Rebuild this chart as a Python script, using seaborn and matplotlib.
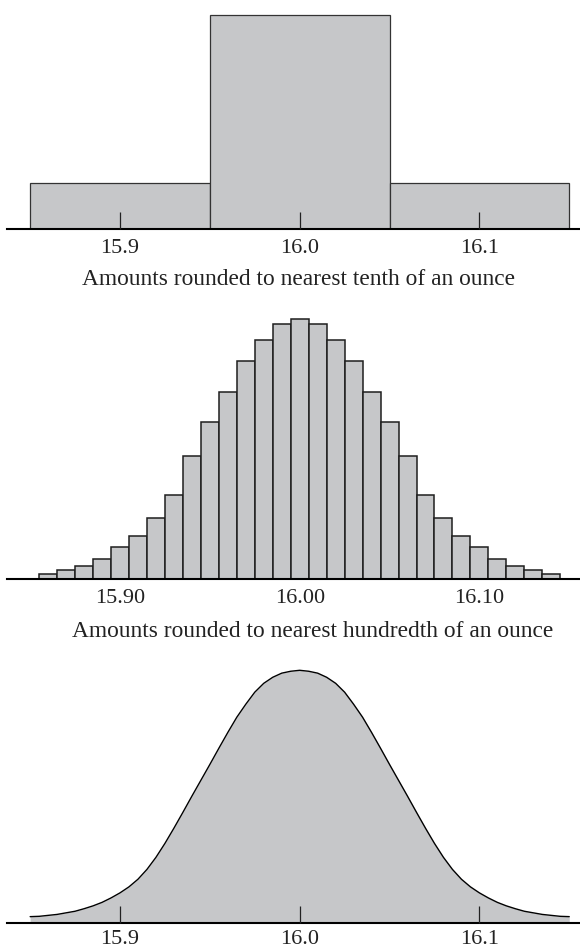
import numpy as np
import matplotlib
matplotlib.use("Agg")
import matplotlib.pyplot as plt
import seaborn as sns

# bars rounded to tenths (percent of items)
tenth_centers = [15.9, 16.0, 16.1]
tenth_pct = [15, 70, 15]

# bars rounded to hundredths (percent of items)
hund_centers = np.round(np.arange(15.86, 16.145, 0.01), 2)
hund_pct = [0.17, 0.27, 0.40, 0.62, 1.00, 1.37, 1.95, 2.68, 3.89, 4.97, 5.94, 6.93, 7.57, 8.10,
            8.24,
            8.10, 7.57, 6.93, 5.94, 4.97, 3.89, 2.68, 1.95, 1.37, 1.00, 0.62, 0.40, 0.27, 0.17]

# smooth curve, density read every 0.005 oz
curve_x = np.linspace(15.85, 16.15, 61)
curve_y = [0.21, 0.22, 0.25, 0.28, 0.33, 0.38, 0.46, 0.55, 0.66, 0.80, 0.96, 1.15, 1.39, 1.70,
           2.08, 2.52, 3.00, 3.50, 4.01, 4.51, 5.01, 5.52, 6.02, 6.50, 6.91, 7.29, 7.57, 7.76,
           7.89, 7.95, 7.98,
           7.95, 7.89, 7.76, 7.57, 7.29, 6.91, 6.50, 6.02, 5.52, 5.01, 4.51, 4.01, 3.50, 3.00,
           2.52, 2.08, 1.70, 1.39, 1.15, 0.96, 0.80, 0.66, 0.55, 0.46, 0.38, 0.33, 0.28, 0.25,
           0.22, 0.21]

ticks_a = [15.9, 16.0, 16.1]
labels_a = ["15.9", "16.0", "16.1"]
labels_b = ["15.90", "16.00", "16.10"]
caption_a = "Amounts rounded to nearest tenth of an ounce"
caption_b = "Amounts rounded to nearest hundredth of an ounce"

sns.set_style("white")
plt.rcParams['font.family'] = ['Liberation Serif', 'DejaVu Serif']

W, H = 580, 950
fig = plt.figure(figsize=(W / 100, H / 100), dpi=100)
GREY = "#c6c7c9"
X0, X1 = 15.83712, 16.15598


def make_ax(top, bottom):
    return fig.add_axes([7 / W, 1 - bottom / H, (W - 7) / W, (bottom - top) / H])


def style(ax, labels, ticklen, pad=7):
    ax.set_xlim(X0, X1)
    ax.set_axisbelow(False)
    for s in ["top", "left", "right"]:
        ax.spines[s].set_visible(False)
    ax.spines["bottom"].set_linewidth(1.5)
    ax.spines["bottom"].set_color("black")
    ax.set_yticks([])
    ax.set_ylabel("")
    ax.set_xlabel("")
    ax.set_xticks(ticks_a)
    ax.set_xticklabels(labels)
    ax.tick_params(axis="x", bottom=True, direction="in", length=ticklen, width=0.9,
                   color="#222222", pad=pad, labelsize=16, labelcolor="#222222")
    ax.set_facecolor("none")


# panel 1
ax1 = make_ax(5, 229.3)
sns.histplot(x=tenth_centers, weights=tenth_pct, bins=[15.85, 15.95, 16.05, 16.15],
             color=GREY, alpha=1, edgecolor="#333333", linewidth=0.9, ax=ax1)
ax1.set_ylim(0, 70 * 224.3 / 214.3)
style(ax1, labels_a, 12)

# panel 2
ax2 = make_ax(300, 579)
edges = [round(15.855 + 0.01 * i, 3) for i in range(30)]
sns.histplot(x=list(hund_centers), weights=hund_pct, bins=edges,
             color=GREY, alpha=1, edgecolor="#1e1e1e", linewidth=1.1, ax=ax2)
ax2.set_ylim(0, 8.24 * 279 / 259.7)
style(ax2, labels_b, 0)

# panel 3
ax3 = make_ax(650, 923.3)
ax3.fill_between(curve_x, curve_y, 0, color=GREY, linewidth=0)
sns.lineplot(x=curve_x, y=curve_y, color="black", linewidth=1.0, ax=ax3)
ax3.set_ylim(0, 7.98 * 273.3 / 253)
style(ax3, labels_a, 12, pad=5)

fig.text(299 / W, 1 - 285 / H, caption_a, ha="center", va="baseline", fontsize=16.8,
         color="#222222")
fig.text(313 / W, 1 - 637 / H, caption_b, ha="center", va="baseline", fontsize=16.8,
         color="#222222")

fig.savefig("out.png", dpi=100)
